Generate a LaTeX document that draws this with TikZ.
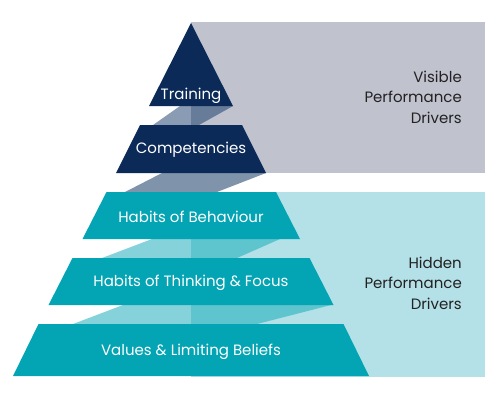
\documentclass[tikz,border=0pt]{standalone}
\usepackage{fontspec}
\setmainfont{Poppins}
\definecolor{navy}{HTML}{0B2A58}
\definecolor{grayrect}{HTML}{C0C2CE}
\definecolor{teal}{HTML}{03A4B3}
\definecolor{lteal}{HTML}{B4E0E7}
\definecolor{bandA}{HTML}{8A9BB4}
\definecolor{bandB}{HTML}{667C99}
\definecolor{bandC}{HTML}{7F93AB}
\definecolor{bandD}{HTML}{86D2DB}
\definecolor{bandE}{HTML}{5EC4CE}
\definecolor{txt}{HTML}{222222}
\begin{document}
\begin{tikzpicture}[x=1pt,y=-1pt,
  lvl/.style={text=white,font=\fontsize{15}{17}\selectfont,inner sep=0pt},
  side/.style={text=txt,font=\fontsize{15}{20.5}\selectfont,align=right,anchor=east,inner sep=0pt}]
\useasboundingbox (0,0) rectangle (500,400);
% background panels
\fill[grayrect] (191,22) rectangle (485,173);
\fill[lteal] (191,192) rectangle (485,377);
% bands
\fill[bandA] (180,106) -- (191,106) -- (191,125) -- (153,125) -- cycle;
\fill[bandB] (191,106) -- (233,106) -- (199,125) -- (191,125) -- cycle;
\fill[bandC] (162,173) -- (266,173) -- (217,192) -- (125,192) -- cycle;
\fill[bandD] (152,239) -- (191,239) -- (191,258) -- (102,258) -- cycle;
\fill[bandE] (191,239) -- (280,239) -- (237,258) -- (191,258) -- cycle;
\fill[bandD] (123,305) -- (191,305) -- (191,324) -- (73,324) -- cycle;
\fill[bandE] (191,305) -- (331,305) -- (257,324) -- (191,324) -- cycle;
% pyramid levels
\fill[navy] (191,23) -- (233,106) -- (149,106) -- cycle;
\fill[navy] (140,125) -- (242,125) -- (266,173) -- (116,173) -- cycle;
\fill[teal] (106.5,192) -- (276,192) -- (300,239) -- (82.5,239) -- cycle;
\fill[teal] (72.5,258) -- (309.5,258) -- (333.5,305) -- (48.5,305) -- cycle;
\fill[teal] (38.5,324) -- (343.5,324) -- (369,376) -- (13,376) -- cycle;
% labels
\node[lvl] (training) at (191,96) {Training};
\node[lvl] (comp) at (191,150) {Competencies};
\node[lvl] (beh) at (191,217) {Habits of Behaviour};
\node[lvl] (think) at (191,283) {Habits of Thinking \& Focus};
\node[lvl] (values) at (191,352) {Values \& Limiting Beliefs};
\node[side] (visible) at (462,97) {Visible\\Performance\\Drivers};
\node[side] (hidden) at (462,283) {Hidden\\Performance\\Drivers};
\end{tikzpicture}
\end{document}
